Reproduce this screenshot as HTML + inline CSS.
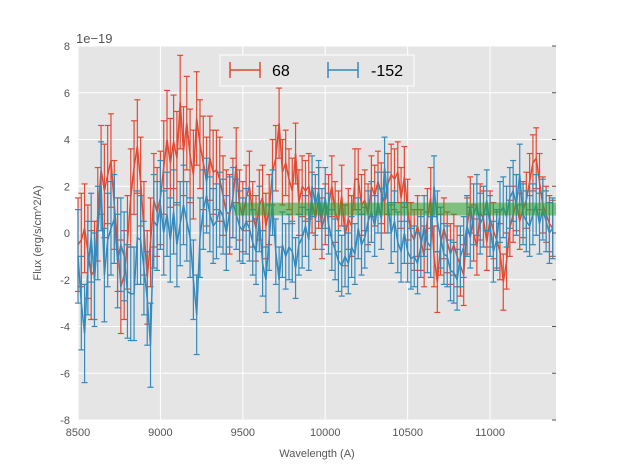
<!DOCTYPE html>
<html><head><meta charset="utf-8"><style>
body{margin:0;background:#fff;}
svg{display:block;font-family:"Liberation Sans",sans-serif;}
</style></head><body>
<svg id="chart" width="617" height="467" viewBox="0 0 617 467">
<rect x="0" y="0" width="617" height="467" fill="#fff"/>
<rect x="78" y="46" width="478" height="374" fill="#E5E5E5"/>
<g id="grid"></g>
<rect id="band" fill="#2ca02c" fill-opacity="0.55"/>
<g id="series"></g>
<g id="axes"></g>
<text x="76" y="43" font-size="13" fill="#555">1e−19</text>
<text x="317" y="457" font-size="11" fill="#555" text-anchor="middle">Wavelength (A)</text>
<text transform="translate(41,233) rotate(-90)" font-size="11" fill="#555" text-anchor="middle">Flux (erg/s/cm^2/A)</text>
<g>
<rect x="220" y="55" width="194" height="31" fill="#E5E5E5" stroke="#fff" stroke-width="1"/>
<g>
<line x1="230" y1="70" x2="260" y2="70" stroke="#E24A33" stroke-width="1.5"/>
<line x1="230" y1="62" x2="230" y2="78" stroke="#E24A33" stroke-width="1.5"/>
<line x1="260" y1="62" x2="260" y2="78" stroke="#E24A33" stroke-width="1.5"/>
<text x="272" y="76" font-size="16" fill="#000">68</text></g>
<g>
<line x1="328" y1="70" x2="358" y2="70" stroke="#348ABD" stroke-width="1.5"/>
<line x1="328" y1="62" x2="328" y2="78" stroke="#348ABD" stroke-width="1.5"/>
<line x1="358" y1="62" x2="358" y2="78" stroke="#348ABD" stroke-width="1.5"/>
<text x="371" y="76" font-size="16" fill="#000">-152</text></g>
</g>
</svg>
<script>
const xStart = 8500, xStep = 20;
const redVals = [-0.5,-0.3,0.2,-0.8,-1.8,-1.6,0.8,2.7,1.8,2.5,3.1,1.2,-0.5,-2.3,-1.8,-0.4,1.5,2.8,3.7,2.2,0.2,-1.9,-0.4,1.4,0.9,1.5,2.8,4.0,3.0,3.9,3.2,5.6,3.5,4.7,3.3,2.5,4.9,3.8,3.0,2.2,3.2,2.6,2.7,2.3,1.6,0.9,0.8,1.5,
2.9,1.2,0.7,1.5,2.0,0.8,0.2,1.2,1.5,0.3,1.0,2.6,3.2,4.7,2.6,3.0,2.3,1.8,3.4,1.3,2.0,1.8,2.0,1.3,0.6,1.5,0.2,0.8,1.2,2.0,0.9,0.5,1.6,-0.1,0.6,0.3,2.3,2.3,1.2,1.4,0.8,2.0,1.6,2.2,1.7,1.3,2.1,2.5,
2.3,2.6,1.5,2.4,1.0,0.0,-0.3,0.3,-0.3,-1.0,0.6,1.5,-1.0,-2.1,-0.5,0.2,-0.4,-0.9,-0.5,-1.0,-1.4,-1.8,0.3,1.2,0.0,-0.6,0.9,0.6,-0.4,0.6,0.1,-0.3,-0.8,-2.1,-1.2,0.2,0.8,1.3,0.5,1.0,1.4,2.2,3.0,3.2,2.2,1.2,0.8,0.4,0.2];
const blueVals = [-1.0,-3.0,-4.3,-1.5,-0.2,-2.0,0.0,2.0,-1.8,-0.3,0.2,0.6,-1.2,-0.5,-1.0,-2.5,-2.6,-2.6,-0.2,-0.3,-1.5,-2.8,-4.8,0.5,0.3,1.2,0.0,0.8,-0.3,0.9,-0.5,0.4,1.2,0.5,-0.2,-2.0,-3.5,-0.2,1.0,1.6,0.8,0.3,0.5,1.0,0.7,0.0,0.9,1.3,
0.8,0.3,0.1,0.5,0.2,-0.4,-0.8,0.6,-1.3,-2.0,-0.2,1.3,-0.8,-2.0,-0.5,-1.0,-0.6,-0.8,-1.5,-0.5,-0.2,0.3,-0.3,2.0,1.2,1.8,0.6,1.5,0.4,-0.3,-0.7,-1.2,-1.4,-1.0,-1.3,-0.6,-0.9,0.2,-0.5,-0.2,0.5,0.9,0.3,1.3,0.6,2.8,1.3,0.0,
0.5,-0.4,-0.8,0.0,-0.8,-1.1,-1.0,-1.3,-0.6,0.3,-0.4,-0.6,2.0,0.5,-0.2,-0.9,-1.0,-1.6,-1.7,-2.0,-1.0,-0.6,0.3,-0.2,0.8,1.2,0.4,0.7,1.4,0.3,-0.8,-0.3,0.9,1.1,0.7,1.5,1.8,1.2,2.5,0.8,0.5,0.3,0.8,1.2,0.4,1.0,0.5,0.0,0.2];
const redErr = [2.0,2.0,1.9,2.0,1.9,2.1,2.0,1.9,2.0,2.1,2.0,1.9,2.0,2.0,1.9,2.0,2.1,2.0,2.0,1.9,2.0,2.0,1.9,2.0,1.9,2.0,2.0,2.1,1.9,2.0,2.0,2.0,1.9,2.0,2.0,1.9,2.0,1.9,2.0,1.9,1.8,1.8,1.7,1.8,1.7,1.8,1.7,1.7,
1.6,1.5,1.5,1.4,1.5,1.4,1.4,1.5,1.4,1.4,1.5,1.4,1.4,1.5,1.4,1.4,1.3,1.4,1.3,1.4,1.3,1.3,1.4,1.3,1.3,1.3,1.3,1.3,1.3,1.3,1.3,1.3,1.3,1.3,1.3,1.3,1.3,1.3,1.3,1.3,1.3,1.3,1.3,1.3,1.3,1.3,1.3,1.3,
1.3,1.3,1.3,1.3,1.3,1.3,1.3,1.3,1.3,1.3,1.3,1.3,1.3,1.3,1.3,1.3,1.3,1.3,1.3,1.3,1.3,1.3,1.2,1.2,1.2,1.2,1.2,1.2,1.2,1.2,1.2,1.2,1.2,1.2,1.2,1.2,1.2,1.2,1.2,1.2,1.2,1.2,1.2,1.3,1.2,1.2,1.2,1.2,1.2];
const blueErr = [2.0,2.0,2.1,2.0,1.9,2.0,2.0,1.9,2.0,2.0,2.0,1.9,2.0,2.0,1.9,2.0,2.0,2.0,2.0,1.9,2.0,2.0,1.8,2.0,1.9,1.9,1.8,1.8,1.8,1.8,1.8,1.8,1.7,1.7,1.7,1.7,1.7,1.7,1.7,1.6,1.6,1.6,1.6,1.6,1.6,1.6,1.5,1.5,
1.5,1.5,1.4,1.4,1.4,1.4,1.4,1.4,1.4,1.4,1.4,1.4,1.4,1.4,1.4,1.4,1.4,1.3,1.3,1.3,1.3,1.3,1.3,1.3,1.3,1.3,1.3,1.3,1.3,1.3,1.3,1.3,1.3,1.3,1.3,1.3,1.3,1.3,1.3,1.3,1.3,1.3,1.3,1.3,1.3,1.3,1.3,1.3,
1.3,1.3,1.3,1.3,1.3,1.3,1.3,1.3,1.3,1.3,1.3,1.3,1.3,1.3,1.3,1.3,1.3,1.3,1.3,1.3,1.3,1.3,1.3,1.3,1.3,1.3,1.3,1.3,1.3,1.3,1.3,1.3,1.3,1.3,1.3,1.3,1.3,1.3,1.3,1.3,1.3,1.3,1.3,1.3,1.3,1.3,1.3,1.3,1.3];
const xTicks = [8500,9000,9500,10000,10500,11000];
const yTicks = [-8,-6,-4,-2,0,2,4,6,8];
const bandRange = [9450, 11400, 0.75, 1.3];

const X0=78, X1=556, Y0=46, Y1=420, XMIN=8500, XMAX=11400, YMIN=-8, YMAX=8;
const sx = v => X0 + (v-XMIN)/(XMAX-XMIN)*(X1-X0);
const sy = v => Y1 - (v-YMIN)/(YMAX-YMIN)*(Y1-Y0);
const NS='http://www.w3.org/2000/svg';
function mk(tag, attrs, parent){const e=document.createElementNS(NS,tag);for(const k in attrs)e.setAttribute(k,attrs[k]);parent.appendChild(e);return e;}
const grid=document.getElementById('grid'), axes=document.getElementById('axes'), series=document.getElementById('series');
xTicks.forEach(t=>{
  const g=mk('line',{x1:sx(t),x2:sx(t),y1:Y0,y2:Y1,stroke:'#fff','stroke-width':1},grid);
  
  
  const l=mk('text',{x:sx(t),y:Y1+16,'font-size':11,fill:'#555','text-anchor':'middle'},axes);
  l.textContent=t;
  
  
});
yTicks.forEach(t=>{
  const g=mk('line',{x1:X0,x2:X1,y1:sy(t),y2:sy(t),stroke:'#fff','stroke-width':1},grid);
  
  
  mk('line',{x1:X1-4,x2:X1,y1:sy(t),y2:sy(t),stroke:'#555','stroke-width':1},axes);
  const l=mk('text',{x:X0-8,y:sy(t)+4,'font-size':11,fill:'#555','text-anchor':'end'},axes);
  l.textContent=t;
  
  
});
const band=document.getElementById('band');
band.setAttribute('x',sx(bandRange[0]));band.setAttribute('width',sx(bandRange[1])-sx(bandRange[0]));
band.setAttribute('y',sy(bandRange[3]));band.setAttribute('height',sy(bandRange[2])-sy(bandRange[3]));
function drawSeries(vals, errs, color, name){
  const g=mk('g',{},series);
  
  
  vals.forEach((v,i)=>{
    const x=sx(xStart+i*xStep), e=errs[i];
    mk('line',{x1:x,x2:x,y1:sy(v-e),y2:sy(v+e),stroke:color,'stroke-width':1.2},g);
    mk('line',{x1:x-3,x2:x+3,y1:sy(v-e),y2:sy(v-e),stroke:color,'stroke-width':1.2},g);
    mk('line',{x1:x-3,x2:x+3,y1:sy(v+e),y2:sy(v+e),stroke:color,'stroke-width':1.2},g);
  });
  const pts=vals.map((v,i)=>sx(xStart+i*xStep).toFixed(1)+','+sy(v).toFixed(1)).join(' ');
  const pl=mk('polyline',{points:pts,fill:'none',stroke:color,'stroke-width':1.5},g);
  
  
}
drawSeries(redVals, redErr, '#E24A33', 'series-68');
drawSeries(blueVals, blueErr, '#348ABD', 'series-minus-152');
series.parentNode.insertBefore(band, series.nextSibling);
</script>
</body></html>
